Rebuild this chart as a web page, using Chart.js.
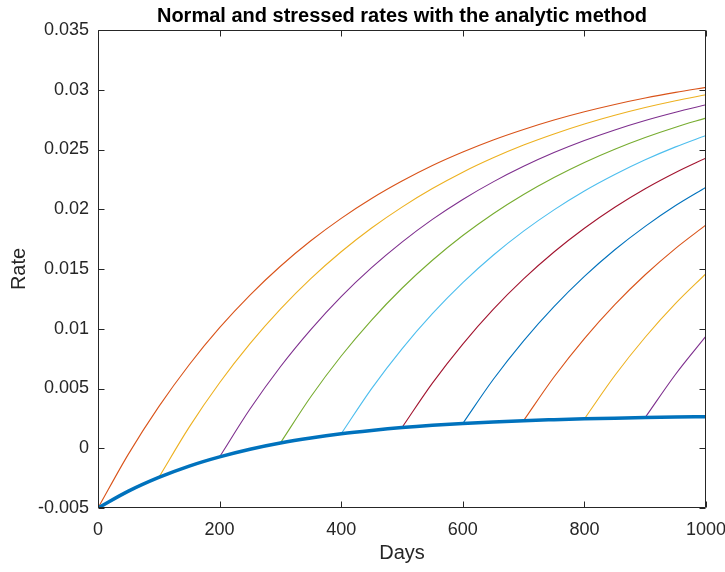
<!DOCTYPE html>
<html>
<head>
<meta charset="utf-8">
<script src="https://cdn.jsdelivr.net/npm/chart.js@4.4.0/dist/chart.umd.min.js"></script>
<style>
  html, body { margin: 0; padding: 0; background: #fff; }
  #wrap { width: 725px; height: 572px; }
</style>
</head>
<body>
<div id="wrap"><canvas id="rates" width="725" height="572"></canvas></div>
<script>
// days on the horizontal axis, one sample every 50 days
const days = [0, 50, 100, 150, 200, 250, 300, 350, 400, 450, 500,
              550, 600, 650, 700, 750, 800, 850, 900, 950, 1000];

// normal rate path (thick blue)
const normalRate = [-0.005, -0.00359, -0.00244, -0.00149, -0.00072, -0.00008, 0.00044,
                    0.00086, 0.00121, 0.00149, 0.00173, 0.00192, 0.00207, 0.0022,
                    0.00231, 0.00239, 0.00246, 0.00252, 0.00257, 0.00261, 0.00264];

// stressed paths, each one starts on the normal path at its stress day
const stressStartDays = [0, 100, 200, 300, 400, 500, 600, 700, 800, 900];

const stress0 = [-0.005, -0.00049, 0.00348, 0.00699, 0.01009, 0.01282, 0.01523, 0.01736, 0.01924, 0.0209,
                 0.02236, 0.02366, 0.02479, 0.0258, 0.02668, 0.02747, 0.02816, 0.02877, 0.02931, 0.02978, 0.0302];
const stress1 = [-0.00244, 0.00177, 0.00548, 0.00875, 0.01164, 0.01419, 0.01644, 0.01843, 0.02018, 0.02173,
                 0.0231, 0.0243, 0.02537, 0.0263, 0.02713, 0.02786, 0.02851, 0.02908, 0.02958];
const stress2 = [-0.00072, 0.00328, 0.00682, 0.00993, 0.01269, 0.01511, 0.01725, 0.01915, 0.02082,
                 0.02229, 0.02359, 0.02474, 0.02575, 0.02664, 0.02743, 0.02812, 0.02874];
const stress3 = [0.00044, 0.00431, 0.00772, 0.01073, 0.01339, 0.01573, 0.0178, 0.01963,
                 0.02124, 0.02266, 0.02392, 0.02503, 0.02601, 0.02687, 0.02763];
const stress4 = [0.00121, 0.00499, 0.00832, 0.01126, 0.01386, 0.01615, 0.01817,
                 0.01995, 0.02153, 0.02291, 0.02414, 0.02522, 0.02618];
const stress5 = [0.00173, 0.00545, 0.00872, 0.01162, 0.01417, 0.01642,
                 0.01841, 0.02017, 0.02172, 0.02308, 0.02429];
const stress6 = [0.00207, 0.00575, 0.00899, 0.01185, 0.01438, 0.01661, 0.01857, 0.02031, 0.02184];
const stress7 = [0.00231, 0.00596, 0.00918, 0.01202, 0.01452, 0.01673, 0.01869];
const stress8 = [0.00246, 0.00609, 0.00929, 0.01212, 0.01461];
const stress9 = [0.00257, 0.00619, 0.00938];

const stressRates = [stress0, stress1, stress2, stress3, stress4,
                     stress5, stress6, stress7, stress8, stress9];

// axis ticks
const xTickValues = [0, 200, 400, 600, 800, 1000];
const yTickValues = [-0.005, 0, 0.005, 0.01, 0.015, 0.02, 0.025, 0.03, 0.035];

const titleText = 'Normal and stressed rates with the analytic method';

// matlab line colour order
const stressColors = ['#D95319', '#EDB120', '#7E2F8E', '#77AC30', '#4DBEEE',
                      '#A2142F', '#0072BD', '#D95319', '#EDB120', '#7E2F8E'];

const axisColor = '#262626';
const fontName = '"Liberation Sans", Arial, Helvetica, sans-serif';

function toPoints(startDay, values) {
  const i0 = days.indexOf(startDay);
  return values.map((v, i) => ({ x: days[i0 + i], y: v }));
}

const datasets = [{
  label: 'normal',
  data: toPoints(0, normalRate),
  borderColor: '#0072BD',
  borderWidth: 3.5,
  pointRadius: 0,
  cubicInterpolationMode: 'monotone',
  order: 0
}];

stressRates.forEach((vals, k) => {
  datasets.push({
    label: 'stress ' + stressStartDays[k],
    data: toPoints(stressStartDays[k], vals),
    borderColor: stressColors[k],
    borderWidth: 1.1,
    pointRadius: 0,
    cubicInterpolationMode: 'monotone',
    order: 1
  });
});

// box around the plot with inward ticks on all four sides,
// title centred over the plot area (not the whole canvas)
const boxPlugin = {
  id: 'boxTicks',
  afterDatasetsDraw(chart) {
    const { ctx, chartArea: a, scales } = chart;
    const L = Math.round(a.left) + 0.5, R = Math.round(a.right) - 0.5;
    const T = Math.round(a.top) + 0.5, B = Math.round(a.bottom) - 0.5;
    const len = 6;
    ctx.save();
    ctx.strokeStyle = axisColor;
    ctx.lineWidth = 1;
    ctx.beginPath();
    ctx.rect(L, T, R - L, B - T);
    xTickValues.forEach(v => {
      const px = Math.round(scales.x.getPixelForValue(v)) + 0.5;
      ctx.moveTo(px, B); ctx.lineTo(px, B - len);
      ctx.moveTo(px, T); ctx.lineTo(px, T + len);
    });
    yTickValues.forEach(v => {
      const py = Math.round(scales.y.getPixelForValue(v)) + 0.5;
      ctx.moveTo(L, py); ctx.lineTo(L + len, py);
      ctx.moveTo(R, py); ctx.lineTo(R - len, py);
    });
    ctx.stroke();

    ctx.fillStyle = '#000';
    ctx.font = 'bold 20px ' + fontName;
    ctx.textAlign = 'center';
    ctx.textBaseline = 'alphabetic';
    ctx.fillText(titleText, (a.left + a.right) / 2, 22);
    ctx.restore();
  }
};

const ctx = document.getElementById('rates').getContext('2d');
const chart = new Chart(ctx, {
  type: 'line',
  data: { datasets: datasets },
  plugins: [boxPlugin],
  options: {
    responsive: false,
    animation: false,
    layout: { padding: { top: 30, left: 0, right: 0, bottom: 0 } },
    plugins: {
      legend: { display: false },
      tooltip: { enabled: false },
      title: { display: false }
    },
    scales: {
      x: {
        type: 'linear',
        min: 0,
        max: 1000,
        grid: { display: false, drawTicks: false },
        border: { display: false },
        afterBuildTicks: s => { s.ticks = xTickValues.map(v => ({ value: v })); },
        afterFit: s => { s.height = 64; s.paddingLeft = 0; s.paddingRight = 19; },
        ticks: {
          color: axisColor,
          padding: 11,
          maxRotation: 0,
          font: { family: fontName, size: 18 },
          callback: v => String(v)
        },
        title: {
          display: true,
          text: 'Days',
          color: axisColor,
          font: { family: fontName, size: 20 },
          padding: { top: 0, bottom: 7 }
        }
      },
      y: {
        min: -0.005,
        max: 0.035,
        grid: { display: false, drawTicks: false },
        border: { display: false },
        afterBuildTicks: s => { s.ticks = yTickValues.map(v => ({ value: v })); },
        afterFit: s => { s.width = 98; s.paddingTop = 0; s.paddingBottom = 0; },
        ticks: {
          color: axisColor,
          padding: 9,
          font: { family: fontName, size: 18 },
          callback: v => String(parseFloat(Number(v).toFixed(3)))
        },
        title: {
          display: true,
          text: 'Rate',
          color: axisColor,
          font: { family: fontName, size: 20 },
          padding: { top: 7, bottom: 0 }
        }
      }
    }
  }
});
</script>
</body>
</html>
